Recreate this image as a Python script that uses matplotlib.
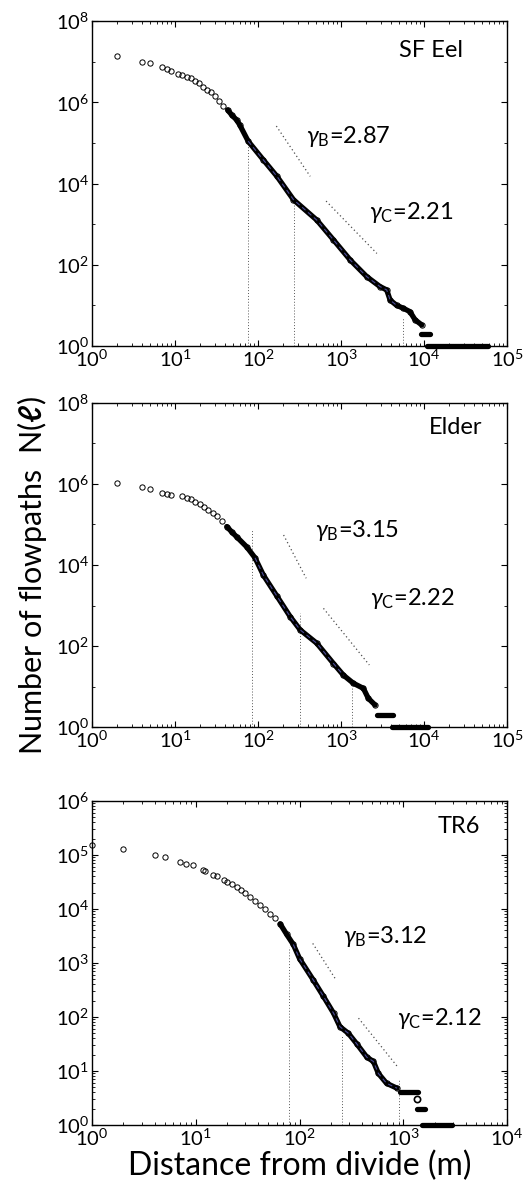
import numpy as np
import matplotlib
matplotlib.use("Agg")
import matplotlib.pyplot as plt
from matplotlib.ticker import LogLocator, NullFormatter

plt.rcParams['font.family'] = ['Lato', 'DejaVu Sans']
plt.rcParams['mathtext.fontset'] = 'custom'
plt.rcParams['mathtext.rm'] = 'Lato'
plt.rcParams['mathtext.it'] = 'Lato:italic'
plt.rcParams['mathtext.bf'] = 'Lato:bold'

# ---- SF Eel ----
eel_x = [2, 4, 5, 7, 8, 9, 11, 12, 14, 15.5, 17.4, 19.6, 22, 24.5, 27, 30, 34, 38,
         43, 48, 55, 60, 76, 116, 169, 267, 510, 810, 1290, 2040, 2950, 3550, 3900,
         4680, 5630, 6770, 7800, 9400]
eel_y = [1.4e7, 1.0e7, 9.2e6, 7.2e6, 6.6e6, 6.0e6, 5.0e6, 4.7e6, 4.3e6, 3.9e6,
         3.4e6, 2.9e6, 2.4e6, 2.0e6, 1.75e6, 1.4e6, 1.05e6, 8.1e5, 6.5e5, 4.9e5,
         3.7e5, 2.8e5, 1.1e5, 3.8e4, 1.5e4, 4.0e3, 1.26e3, 410, 131, 51, 29, 24,
         13.5, 10, 8.5, 7, 4.4, 3.3]
eel_steps = [(9300, 11800, 2), (10700, 59000, 1)]
eel_breaks = [76, 268, 5500]
eel_break_top = [1.2e5, 4.0e3, 5.3]
eel_fit_x = [[166, 425], [660, 2700]]
eel_fit_y = [[2.6e5, 1.5e4], [3.7e3, 190]]
eel_gamma = ['2.87', '2.21']
eel_gamma_pos = [(380, 1.4e5), (2190, 1.9e3)]

# ---- Elder ----
eld_x = [2, 4, 5, 7, 8, 9, 12, 13.8, 15.5, 17.4, 20, 22.4, 25.2, 28.5, 31.8, 36.6,
         42, 48, 55, 73, 92, 116, 169, 244, 322, 510, 810, 1070, 1410, 1860, 2130,
         2570]
eld_y = [1.07e6, 8.3e5, 7.5e5, 6.1e5, 5.7e5, 5.3e5, 5.0e5, 4.6e5, 4.2e5, 3.6e5,
         3.2e5, 2.7e5, 2.3e5, 1.9e5, 1.6e5, 1.2e5, 8.9e4, 6.6e4, 5.0e4, 2.8e4,
         1.5e4, 5.6e3, 1.7e3, 530, 250, 117, 37, 19, 12, 9, 5.1, 3.5]
eld_steps = [(2700, 4260, 2), (4100, 11200, 1)]
eld_breaks = [84, 316, 1370]
eld_break_top = [7.2e4, 650, 9.1]
eld_fit_x = [[203, 380], [614, 2190]]
eld_fit_y = [[5.5e4, 4.7e3], [850, 34]]
eld_gamma = ['3.15', '2.22']
eld_gamma_pos = [(485, 7.2e4), (2240, 1.5e3)]

# ---- TR6 ----
tr_x = [1, 2, 4, 5, 7, 8, 9.3, 11.7, 12.3, 14.8, 15.9, 18.5, 20, 22.3, 24.7, 27,
        29.7, 33, 37, 41.5, 46.5, 52, 58, 65, 75, 87, 100, 135, 170, 213, 245, 295,
        355, 445, 515, 575, 690, 870]
tr_y = [1.5e5, 1.3e5, 1.0e5, 9.1e4, 7.5e4, 6.8e4, 6.5e4, 5.3e4, 5.0e4, 4.2e4,
        4.1e4, 3.5e4, 3.2e4, 2.9e4, 2.5e4, 2.2e4, 1.95e4, 1.7e4, 1.4e4, 1.2e4,
        9.8e3, 8.1e3, 6.7e3, 5.3e3, 3.4e3, 2.2e3, 1.2e3, 490, 240, 117, 66, 50,
        32, 18, 15, 9, 5.9, 4.8]
tr_steps = [(930, 1400, 4), (1350, 1620, 2), (1510, 2940, 1)]
tr_extra = [(1350, 3)]
tr_breaks = [79, 255, 915]
tr_break_top = [2.0e3, 44, 7.2]
tr_fit_x = [[134, 224], [370, 870]]
tr_fit_y = [[2.3e3, 490], [95, 12.3]]
tr_gamma = ['3.12', '2.12']
tr_gamma_pos = [(265, 3.1e3), (870, 95)]

panels = [
    dict(name='SF Eel', x=eel_x, y=eel_y, steps=eel_steps, extra=[], breaks=eel_breaks,
         btop=eel_break_top, fx=eel_fit_x, fy=eel_fit_y, g=eel_gamma, gp=eel_gamma_pos,
         xlim=(1, 1e5), ylim=(1, 1e8), yt=[1, 1e2, 1e4, 1e6, 1e8], namepos=(0.895, 0.91),
         dense=40),
    dict(name='Elder', x=eld_x, y=eld_y, steps=eld_steps, extra=[], breaks=eld_breaks,
         btop=eld_break_top, fx=eld_fit_x, fy=eld_fit_y, g=eld_gamma, gp=eld_gamma_pos,
         xlim=(1, 1e5), ylim=(1, 1e8), yt=[1, 1e2, 1e4, 1e6, 1e8], namepos=(0.94, 0.923),
         dense=40),
    dict(name='TR6', x=tr_x, y=tr_y, steps=tr_steps, extra=tr_extra, breaks=tr_breaks,
         btop=tr_break_top, fx=tr_fit_x, fy=tr_fit_y, g=tr_gamma, gp=tr_gamma_pos,
         xlim=(1, 1e4), ylim=(1, 1e6), yt=[1, 10, 1e2, 1e3, 1e4, 1e5, 1e6], namepos=(0.935, 0.92),
         dense=60),
]

fig = plt.figure(figsize=(5.26, 11.94), dpi=100)
boxes = [[0.175, 0.7102, 0.789, 0.2722],
         [0.175, 0.3911, 0.789, 0.2714],
         [0.175, 0.0578, 0.789, 0.2714]]

for p, box in zip(panels, boxes):
    ax = fig.add_axes(box)
    ax.set_xscale('log')
    ax.set_yscale('log')
    x = np.array(p['x'], dtype=float)
    y = np.array(p['y'], dtype=float)

    # dense part of the curve shows as a thick black band
    dense = x >= p['dense']
    ax.plot(x[dense], y[dense], color='black', lw=3.8, solid_capstyle='round', zorder=3)
    ax.plot(x, y, 'o', ms=3.8, mfc='none', mec='black', mew=0.7, zorder=4, clip_on=False)
    for x0, x1, lev in p['steps']:
        ax.plot([x0, x1], [lev, lev], color='black', lw=3.8, solid_capstyle='round',
                zorder=3, clip_on=False)
    for ex, ey in p['extra']:
        ax.plot([ex], [ey], 'o', ms=4.5, mfc='none', mec='black', mew=1.2, zorder=4)

    # fitted curve (dashed, blue) between the first and last break
    fit = (x >= p['breaks'][0]) & (x <= p['breaks'][2])
    ax.plot(x[fit], y[fit], color='#4a4a96', lw=0.8, ls=(0, (4, 3)), zorder=5)

    # break points
    for bx, bt in zip(p['breaks'], p['btop']):
        ax.plot([bx, bx], [1, bt], color='0.35', lw=0.7, ls=(0, (1, 2)), zorder=2)

    # slope reference lines and labels
    for fx, fy, g, (gx, gy), sub in zip(p['fx'], p['fy'], p['g'], p['gp'], ['B', 'C']):
        ax.plot(fx, fy, color='0.3', lw=0.9, ls=(0, (1, 2.2)), zorder=2)
        ax.text(gx, gy, r'$\gamma_{\mathrm{%s}}$=%s' % (sub, g), fontsize=17,
                ha='left', va='center')

    ax.text(p['namepos'][0], p['namepos'][1], p['name'], transform=ax.transAxes,
            ha='right', va='center', fontsize=17)

    ax.set_xlim(*p['xlim'])
    ax.set_ylim(*p['ylim'])
    ax.set_yticks(p['yt'])
    ax.xaxis.set_major_locator(LogLocator(base=10, numticks=10))
    ax.xaxis.set_minor_locator(LogLocator(base=10, subs=np.arange(2, 10), numticks=20))
    ax.xaxis.set_minor_formatter(NullFormatter())
    if p['name'] == 'TR6':
        ax.yaxis.set_minor_locator(LogLocator(base=10, subs=np.arange(2, 10), numticks=20))
    else:
        ax.yaxis.set_minor_locator(LogLocator(base=10, subs=[1.0], numticks=20))
    ax.yaxis.set_minor_formatter(NullFormatter())
    ax.tick_params(which='both', direction='in', top=True, right=True, labelsize=14.5, pad=2)
    ax.tick_params(which='major', length=4, width=0.8)
    ax.tick_params(which='minor', length=2, width=0.6)
    for s in ax.spines.values():
        s.set_linewidth(1.0)
    if p['name'] == 'TR6':
        ax.set_xlabel('Distance from divide (m)', fontsize=23, labelpad=1)

fig.text(0.06, 0.518, r'Number of flowpaths  N($\mathbf{\ell}$)', rotation=90,
         ha='center', va='center', fontsize=22)

fig.savefig('out.png', dpi=100)
